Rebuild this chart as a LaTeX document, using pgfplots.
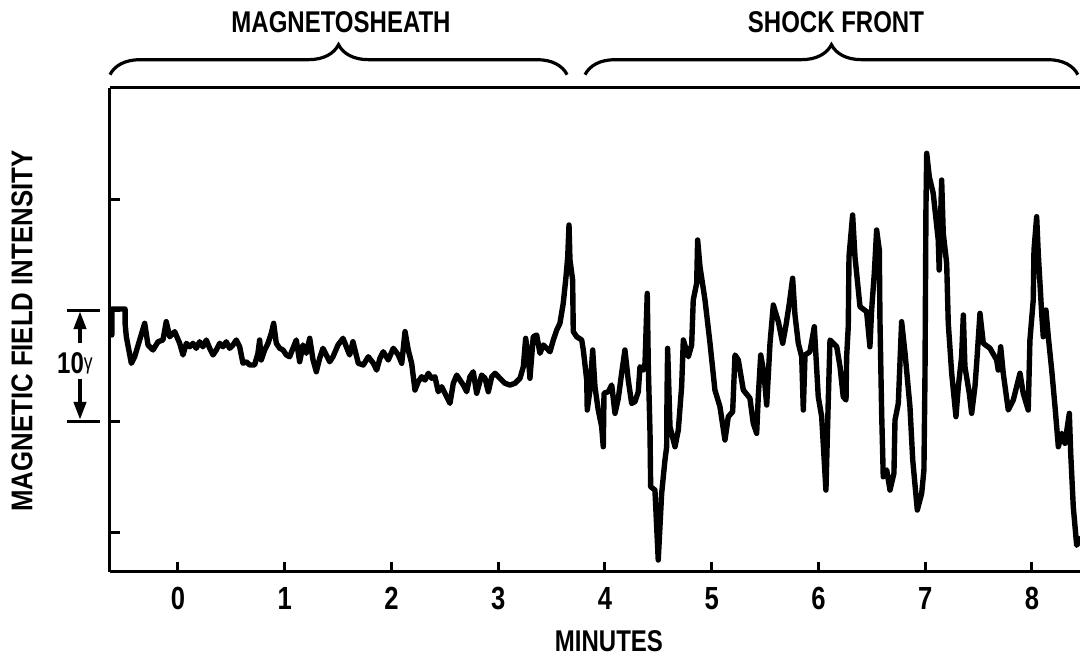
\documentclass[border=0pt]{standalone}
\usepackage{fontspec}
\setmainfont{Liberation Sans}[FakeStretch=0.8]
\usepackage{pgfplots}
\usepackage{pgfplotstable}
\pgfplotsset{compat=1.18}
\usetikzlibrary{arrows.meta,decorations.pathreplacing}

% Magnetometer trace: time in minutes, field in gamma (relative)
\pgfplotstableread{
t B
-0.620 7.75
-0.620 10.09
-0.496 10.09
-0.496 8.83
-0.484 7.59
-0.437 5.20
-0.406 5.79
-0.359 7.30
-0.312 8.80
-0.281 6.85
-0.234 6.40
-0.187 7.14
-0.141 7.30
-0.110 8.95
-0.078 7.59
-0.031 8.05
0.016 7.00
0.047 5.95
0.078 7.00
0.110 6.69
0.141 7.00
0.171 6.55
0.203 7.14
0.234 6.69
0.265 7.30
0.297 6.55
0.328 5.95
0.359 6.40
0.391 7.00
0.422 6.69
0.452 7.14
0.484 6.55
0.515 6.85
0.546 7.30
0.578 6.69
0.609 5.20
0.640 5.34
0.672 5.05
0.718 5.05
0.749 6.10
0.765 7.30
0.780 5.50
0.812 6.40
0.843 7.00
0.874 7.90
0.896 8.80
0.921 7.00
0.953 6.55
0.984 6.40
1.015 5.95
1.046 5.79
1.077 6.55
1.108 7.30
1.140 5.34
1.171 6.85
1.202 6.10
1.234 7.45
1.265 5.50
1.296 4.44
1.327 5.65
1.358 6.55
1.389 5.95
1.421 5.34
1.452 5.79
1.499 6.85
1.546 7.45
1.577 6.69
1.608 5.95
1.639 7.14
1.689 5.20
1.736 5.05
1.783 5.79
1.830 5.20
1.861 4.59
1.892 5.65
1.923 6.24
1.970 5.50
2.017 6.55
2.064 5.95
2.096 5.20
2.127 8.05
2.157 6.40
2.189 5.20
2.220 2.79
2.251 3.54
2.283 3.99
2.314 3.69
2.345 4.30
2.377 3.85
2.407 3.99
2.438 2.64
2.470 3.09
2.501 2.50
2.548 1.59
2.579 3.40
2.611 4.14
2.642 3.69
2.673 3.24
2.704 2.64
2.735 3.99
2.766 4.44
2.798 2.50
2.845 4.14
2.876 3.85
2.907 2.64
2.939 3.99
2.970 4.30
3.016 3.85
3.063 3.40
3.110 3.24
3.157 3.40
3.204 3.85
3.235 4.89
3.257 7.45
3.282 5.79
3.297 3.85
3.328 7.59
3.360 7.75
3.391 6.10
3.422 6.85
3.454 6.55
3.485 6.24
3.516 7.30
3.548 8.20
3.578 8.80
3.609 10.60
3.635 13.00
3.651 14.80
3.663 17.66
3.672 14.50
3.697 12.70
3.703 8.05
3.735 7.59
3.782 7.30
3.797 6.40
3.829 3.69
3.834 0.99
3.859 2.79
3.885 6.40
3.906 3.09
3.937 0.99
3.969 -0.51
3.984 -2.32
3.991 2.50
4.031 2.64
4.063 3.24
4.094 0.69
4.125 2.05
4.156 4.30
4.187 6.40
4.218 3.69
4.250 1.59
4.281 1.74
4.312 2.64
4.328 4.89
4.359 4.59
4.375 5.20
4.396 11.50
4.406 4.89
4.422 -1.11
4.428 -5.92
4.468 -6.22
4.499 -12.52
4.531 -6.51
4.562 -3.51
4.578 -2.32
4.581 2.19
4.587 6.55
4.609 -0.51
4.656 -2.32
4.687 -0.81
4.718 3.09
4.734 7.30
4.781 5.79
4.812 6.85
4.827 10.90
4.859 12.41
4.868 16.31
4.890 13.90
4.937 10.90
4.984 7.00
5.030 2.79
5.077 1.29
5.124 -1.71
5.155 0.39
5.196 0.84
5.218 5.95
5.249 5.50
5.296 2.79
5.358 2.05
5.389 -0.21
5.421 -1.11
5.436 2.19
5.459 5.95
5.489 4.30
5.515 1.44
5.546 7.00
5.577 10.45
5.624 8.95
5.665 7.00
5.696 8.65
5.727 10.60
5.758 12.86
5.780 9.55
5.811 7.00
5.843 5.79
5.858 0.99
5.874 5.95
5.920 6.24
5.961 8.50
5.998 2.19
6.030 0.39
6.070 -6.22
6.092 1.89
6.108 7.30
6.171 6.69
6.202 4.89
6.232 2.19
6.258 1.89
6.264 5.79
6.279 8.50
6.286 14.80
6.320 18.56
6.342 14.80
6.389 10.30
6.451 9.85
6.482 6.69
6.498 10.00
6.523 13.31
6.545 17.21
6.570 15.41
6.576 9.10
6.592 0.69
6.607 -5.02
6.639 -4.41
6.670 -6.22
6.707 -4.71
6.717 0.09
6.748 1.59
6.779 8.95
6.811 6.10
6.857 1.29
6.883 -3.51
6.926 -8.02
6.967 -6.51
6.988 -4.41
6.998 4.30
7.007 19.31
7.014 24.12
7.038 22.01
7.075 20.51
7.122 16.31
7.131 13.60
7.154 21.71
7.169 16.91
7.201 14.21
7.216 8.80
7.248 4.30
7.288 0.39
7.310 3.09
7.341 5.79
7.357 9.55
7.372 4.89
7.413 2.50
7.435 0.69
7.466 3.09
7.482 5.20
7.513 9.70
7.544 7.00
7.607 6.55
7.669 5.50
7.684 4.59
7.707 6.69
7.731 4.30
7.778 0.99
7.825 1.89
7.888 4.30
7.918 2.50
7.965 0.99
7.981 7.30
8.012 10.90
8.019 15.41
8.044 18.41
8.059 15.11
8.091 9.70
8.106 7.59
8.131 10.00
8.153 7.59
8.185 4.59
8.216 1.29
8.247 -2.32
8.279 -1.11
8.309 -2.01
8.350 0.69
8.363 -2.91
8.387 -7.72
8.419 -11.20
8.450 -10.60
}\fielddata

\begin{document}
\begin{tikzpicture}
\begin{axis}[
  width=485pt, height=242pt, scale only axis,
  xmin=-0.637, xmax=8.45, ymin=-13.6, ymax=30,
  axis x line=bottom, axis y line=left,
  axis line style={-, line width=1.5pt, black},
  xtick={0,1,2,3,4,5,6,7,8},
  ytick={-10,0,10,20}, yticklabels={},
  tick align=inside,
  major tick length=5pt,
  every tick/.style={black, line width=1.5pt},
  /pgf/number format/assume math mode=true,
  xticklabel style={font=\fontsize{16}{18}\selectfont\bfseries, yshift=-4pt},
  clip=false,
]
\addplot[black, line width=2.7pt, line join=round, line cap=round]
  table[x=t, y=B]{\fielddata};

\coordinate (sw) at (rel axis cs:0,0);
\coordinate (ne) at (rel axis cs:1,1);
\draw[line width=1.5pt] (rel axis cs:0,1) -- (rel axis cs:1,1);

% region braces and their titles
\draw[line width=1.6pt, decorate, decoration={brace, amplitude=15pt}]
  (axis cs:-0.637,31.2) -- (axis cs:3.645,31.2);
\draw[line width=1.6pt, decorate, decoration={brace, amplitude=15pt}]
  (axis cs:3.813,31.2) -- (axis cs:8.430,31.2);
\node[font=\fontsize{15}{17}\selectfont\bfseries, anchor=base] at (axis cs:1.527,35.0) {MAGNETOSHEATH};
\node[font=\fontsize{15}{17}\selectfont\bfseries, anchor=base] at (axis cs:6.164,35.0) {SHOCK FRONT};

% 10 gamma scale bar
\draw[line width=1.5pt] (axis cs:-1.04,10) -- (axis cs:-0.731,10);
\draw[line width=1.5pt] (axis cs:-1.04,0) -- (axis cs:-0.731,0);
\draw[line width=2pt, -{Triangle[length=9pt,width=6pt]}]
  (axis cs:-0.918,7.0) -- (axis cs:-0.918,9.9);
\draw[line width=2pt, -{Triangle[length=9pt,width=6pt]}]
  (axis cs:-0.918,3.8) -- (axis cs:-0.918,0.1);
\node[font=\fontsize{15}{17}\selectfont\bfseries, inner sep=0pt] at (axis cs:-0.965,5.2)
  {10\raisebox{2pt}{\mdseries\fontsize{11}{13}\selectfont γ}};

% axis titles
\node[font=\fontsize{15}{17}\selectfont\bfseries, rotate=90] at (axis cs:-1.461,8.1)
  {\addfontfeature{FakeStretch=0.86}MAGNETIC FIELD INTENSITY};
\node[font=\fontsize{15}{17}\selectfont\bfseries, anchor=base] at (axis cs:4.037,-20.8) {MINUTES};
\end{axis}
\pgfresetboundingbox
\path ([xshift=-55pt,yshift=-42pt]sw) rectangle ([yshift=44pt]ne);
\end{tikzpicture}
\end{document}
